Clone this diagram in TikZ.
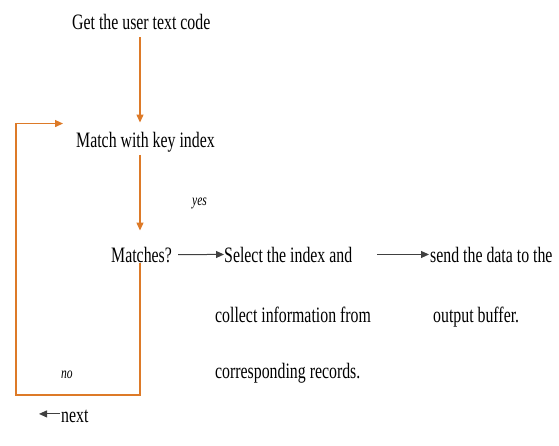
\documentclass[tikz,border=0pt]{standalone}
\usepackage{fontspec}
\setmainfont{Liberation Serif}[FakeStretch=0.72]
\usetikzlibrary{arrows.meta}
\definecolor{flow}{HTML}{DD7A28}
\tikzset{
  txt/.style={anchor=base west, inner sep=0pt, font=\fontsize{22}{26}\selectfont},
  lbl/.style={anchor=base west, inner sep=0pt, font=\fontsize{16}{19}\selectfont\itshape},
  oarr/.style={draw=flow, line width=1.3pt, -{Triangle[length=8pt,width=7pt]}},
  barr/.style={draw=black!75, line width=1pt, -{Triangle[length=8pt,width=7pt]}}
}
\begin{document}
\begin{tikzpicture}[x=1pt,y=-1pt]
\useasboundingbox (0,0) rectangle (559,445);
\node[txt] (get) at (72,29) {Get the user text code};
\node[txt] (match) at (76,147) {Match with key index};
\node[lbl] (yes) at (192,205) {yes};
\node[txt] (matches) at (111,262) {Matches?};
\node[txt] (select) at (224,262) {Select the index and};
\node[txt] (collect) at (215,322) {collect information from};
\node[txt] (corr) at (215,378) {corresponding records.};
\node[txt] (send) at (430,262) {send the data to the};
\node[txt] (output) at (433,322) {output buffer.};
\node[lbl] (no) at (61,378) {no};
\node[txt] (next) at (61,422) {next};
\coordinate (loopc) at (16,395);
\coordinate (col) at (140,0);
% main flow
\draw[oarr] ([yshift=-8pt]get.south -| col) -- ([yshift=9pt]match.north -| col);
\draw[oarr] ([yshift=-3pt]match.south -| col) -- ([yshift=16pt]matches.north -| col);
\draw[barr] ([xshift=6pt]matches.east) -- (select.west);
\draw[barr] ([xshift=25pt]select.east) -- ([xshift=-1pt]send.west);
% loop back
\draw[oarr] (matches.south -| col) |- (loopc) |- ([xshift=-13pt,yshift=8pt]match.north west);
% next
\draw[barr] ([xshift=-1pt,yshift=2pt]next.west) -- ++(-21,0);
\end{tikzpicture}
\end{document}
